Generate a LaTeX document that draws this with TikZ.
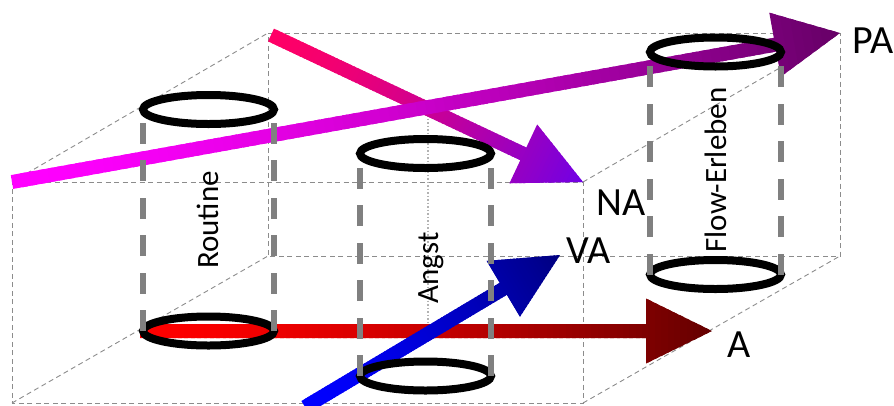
\documentclass[tikz,border=0pt]{standalone}
\usepackage{fontspec}
\setmainfont{Carlito}
\usetikzlibrary{calc}
\definecolor{boxgray}{HTML}{8C8C8C}
\definecolor{wallgray}{HTML}{808080}
\definecolor{pa1}{HTML}{FF00FF}
\definecolor{pa2}{HTML}{660066}
\definecolor{na1}{HTML}{FF0066}
\definecolor{na2}{HTML}{7000E6}
\definecolor{va1}{HTML}{0000FF}
\definecolor{va2}{HTML}{000080}
\definecolor{aa1}{HTML}{FF0000}
\definecolor{aa2}{HTML}{640000}
\newcommand\gradarrow[4]{%
  \begin{scope}
    \coordinate (gh) at ($(#2)!66pt!(#1)$);
    \clip ($(#1)!7pt!90:(#2)$) -- ($(gh)!7pt!90:(#2)$) -- ($(gh)!32.5pt!90:(#2)$) -- (#2)
      -- ($(gh)!32.5pt!-90:(#2)$) -- ($(gh)!7pt!-90:(#2)$) -- ($(#1)!7pt!-90:(#2)$) -- cycle;
    \foreach \i in {0,...,89}{
      \pgfmathsetmacro\pmix{100*(1-((\i+0.5)/90)^1.5)}
      \draw[line width=80pt, draw={#3!\pmix!#4}] ($(#1)!{\i/90}!(#2)$) -- ($(#1)!{(\i+1.6)/90}!(#2)$);
    }
  \end{scope}}
\tikzset{
  boxedge/.style={draw=boxgray, line width=0.9pt, dash pattern=on 5pt off 3.5pt},
  axisline/.style={draw=black!30, line width=1.5pt, dash pattern=on 1.5pt off 2pt},
  ring/.style={draw=black, line width=8pt},
  wall/.style={draw=wallgray, line width=5.5pt, dash pattern=on 21pt off 16.5pt},
  statetext/.style={font=\fontsize{31}{31}\selectfont, rotate=90, anchor=base, inner sep=0pt},
  axislabel/.style={font=\fontsize{40}{40}\selectfont, anchor=base, inner sep=0pt},
}
\begin{document}
\begin{tikzpicture}[x=1pt, y=-1pt]
\useasboundingbox (0,0) rectangle (894,405);
% box corners
\coordinate (ftl) at (12,182);
\coordinate (ftr) at (583,182);
\coordinate (fbl) at (12,403);
\coordinate (fbr) at (583,403);
\coordinate (btl) at (268,33);
\coordinate (btr) at (840,33);
\coordinate (bbl) at (268,256);
\coordinate (bbr) at (840,256);
\draw[boxedge] (ftl) -- (ftr) -- (fbr) -- (fbl) -- cycle;
\draw[boxedge] (btl) -- (btr) -- (bbr) -- (bbl) -- cycle;
\draw[boxedge] (ftl) -- (btl);
\draw[boxedge] (ftr) -- (btr);
\draw[boxedge] (fbl) -- (bbl);
\draw[boxedge] (fbr) -- (bbr);
% dotted axis
\coordinate (axt) at (428,108);
\coordinate (axb) at (428,331);
\draw[axisline] (axt) -- (axb);
% arrows
\coordinate (NAs) at (271,35);
\coordinate (NAe) at (583,182);
\coordinate (PAs) at (12,182);
\coordinate (PAe) at (840,33);
\coordinate (As) at (140,331);
\coordinate (Ae) at (712,331);
\coordinate (VAs) at (305,407);
\coordinate (VAe) at (560,255);
\gradarrow{NAs}{NAe}{na1}{na2}
\gradarrow{PAs}{PAe}{pa1}{pa2}
\gradarrow{As}{Ae}{aa1}{aa2}
\gradarrow{VAs}{VAe}{va1}{va2}
% cylinders
\coordinate (rt) at (208.5,109.5);
\coordinate (rb) at (208.5,331);
\coordinate (at) at (425.5,153.5);
\coordinate (ab) at (425.5,376);
\coordinate (ft) at (715.5,52);
\coordinate (fb) at (715.5,274.5);
\foreach \c in {rt,rb,at,ab,ft,fb}{
  \draw[ring] (\c) ellipse [x radius=65.5, y radius=14.5];
}
\foreach \t/\b in {rt/rb,at/ab,ft/fb}{
  \draw[wall] ($(\b)+(-65.5,0)$) -- ($(\t)+(-65.5,0)$);
  \draw[wall] ($(\b)+(65.5,0)$) -- ($(\t)+(65.5,0)$);
}
% texts
\node[statetext] (routine) at (218,220) {Routine};
\node[statetext] (angst) at (438,268) {Angst};
\node[statetext] (flow) at (726,170) {Flow-Erleben};
\node[axislabel] (PA) at (873,53) {PA};
\node[axislabel] (NA) at (621,215) {NA};
\node[axislabel] (VA) at (588.5,263) {VA};
\node[axislabel] (Alab) at (739,357) {A};
\end{tikzpicture}
\end{document}
